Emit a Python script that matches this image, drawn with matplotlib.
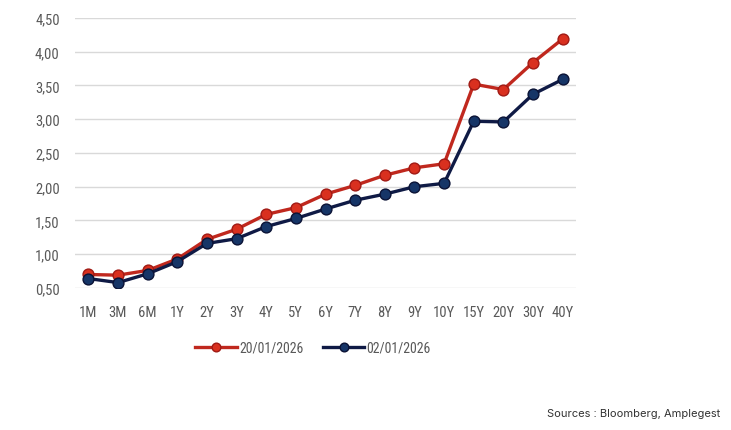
import matplotlib
matplotlib.use("Agg")
import matplotlib.pyplot as plt
from matplotlib import font_manager as fm

categories = ["1M", "3M", "6M", "1Y", "2Y", "3Y", "4Y", "5Y", "6Y", "7Y", "8Y", "9Y", "10Y", "15Y", "20Y", "30Y", "40Y"]
red_20jan = [0.70, 0.69, 0.76, 0.93, 1.22, 1.37, 1.59, 1.69, 1.89, 2.02, 2.17, 2.28, 2.34, 3.52, 3.44, 3.84, 4.19]
blue_02jan = [0.64, 0.58, 0.71, 0.89, 1.16, 1.23, 1.41, 1.53, 1.67, 1.80, 1.89, 2.00, 2.05, 2.97, 2.96, 3.37, 3.59]
yticks = [0.5, 1.0, 1.5, 2.0, 2.5, 3.0, 3.5, 4.0, 4.5]
ytick_labels = ["0,50", "1,00", "1,50", "2,00", "2,50", "3,00", "3,50", "4,00", "4,50"]
legend_labels = ["20/01/2026", "02/01/2026"]
source_text = "Sources : Bloomberg, Amplegest"

names = {f.name for f in fm.fontManager.ttflist}
cond = [n for n in ["Roboto Condensed", "Liberation Sans Narrow", "Open Sans Condensed"] if n in names]
fam = cond + ["DejaVu Sans"]

fig = plt.figure(figsize=(7.31, 4.31), dpi=100)
ax = fig.add_axes([0.1026, 0.3295, 0.6854, 0.6265])

x = list(range(len(categories)))
ax.plot(x, red_20jan, color="#C0281E", lw=2.4, marker="o", ms=7.8,
        mfc="#D9301F", mec="#A01A14", mew=1.0, label=legend_labels[0], zorder=3)
ax.plot(x, blue_02jan, color="#0F1A45", lw=2.4, marker="o", ms=7.8,
        mfc="#163567", mec="#0A1235", mew=1.0, label=legend_labels[1], zorder=4)

ax.set_ylim(0.5, 4.5)
ax.set_xlim(-0.45, len(categories) - 1 + 0.45)
ax.set_yticks(yticks)
ax.set_yticklabels(ytick_labels)
ax.set_xticks(x)
ax.set_xticklabels(categories)
ax.grid(axis="y", color="#D9D9D9", lw=1.0)
ax.set_axisbelow(True)
for s in ax.spines.values():
    s.set_visible(False)
ax.tick_params(axis="both", length=0, colors="#595959", labelsize=10.5)
ax.tick_params(axis="y", pad=11)
ax.tick_params(axis="x", pad=12)
for lab in ax.get_xticklabels() + ax.get_yticklabels():
    lab.set_family(fam)

leg = ax.legend(loc="upper center", bbox_to_anchor=(0.475, -0.15), ncol=2, frameon=False,
                handlelength=3.0, handletextpad=0.15, columnspacing=1.4, markerscale=0.8,
                prop={"family": fam, "size": 10})
for t in leg.get_texts():
    t.set_color("#595959")

fig.text(0.985, 0.04, source_text, ha="right", va="center", fontsize=8,
         family=["Inter", "DejaVu Sans"], color="#333333")

fig.savefig("out.png", dpi=100)
